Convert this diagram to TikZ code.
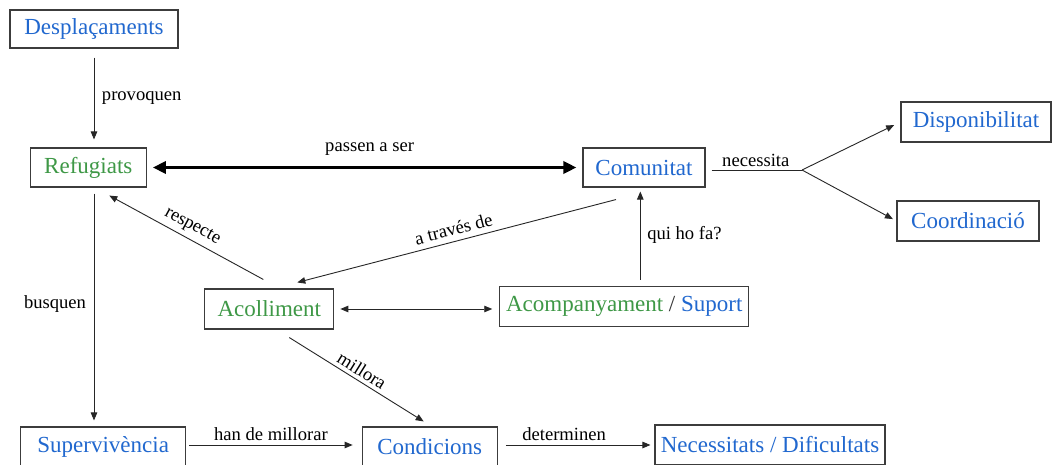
\documentclass[tikz,border=0pt]{standalone}
\usepackage{fontspec}
\setmainfont{Liberation Serif}
\usetikzlibrary{arrows.meta,calc}
\definecolor{cblue}{RGB}{33,104,207}
\definecolor{cgreen}{RGB}{62,152,70}
\definecolor{boxgray}{RGB}{60,60,60}
\newcommand\boxfont{\fontsize{23}{27}\selectfont}
\newcommand\lblfont{\fontsize{18.6}{21}\selectfont}
\tikzset{
  box/.style={draw=boxgray, line width=1.1pt, inner sep=0pt, font=\boxfont, text=cblue},
  gbox/.style={box, text=cgreen},
  lbl/.style={font=\lblfont, inner sep=1.5pt, text=black},
  arr/.style={line width=0.9pt, draw=black!85, -{Triangle[length=8pt,width=6.5pt]}},
  darr/.style={line width=0.9pt, draw=black!85, {Triangle[length=8pt,width=6.5pt]}-{Triangle[length=8pt,width=6.5pt]}},
  thickarr/.style={line width=3.6pt, {Triangle[length=13pt,width=12pt]}-{Triangle[length=13pt,width=12pt]}},
  plainline/.style={line width=0.9pt, draw=black!85},
}
\begin{document}
\begin{tikzpicture}[x=1pt,y=-1pt]
\clip (0,0) rectangle (1052,465);
\fill[white] (0,0) rectangle (1052,465);

\node[box, minimum width=168pt, minimum height=38pt] (desp) at (94,29) {Desplaçaments};
\node[gbox, minimum width=116pt, minimum height=39pt] (refug) at (88.3,167.5) {Refugiats};
\node[box, minimum width=122pt, minimum height=39pt] (comun) at (644,167.5) {Comunitat};
\node[box, minimum width=150pt, minimum height=40pt] (disp) at (976,122) {Disponibilitat};
\node[box, minimum width=142pt, minimum height=40pt] (coord) at (968,221) {Coordinació};
\node[gbox, minimum width=129pt, minimum height=40pt] (acoll) at (269.3,309) {Acolliment};
\node[box, minimum width=249pt, minimum height=40pt] (acomp) at (624.3,306.3) {\textcolor{cgreen}{Acompanyament} \textcolor{black!80}{/} Suport};
\node[box, minimum width=165pt, minimum height=40pt] (superv) at (103.2,447) {Supervivència};
\node[box, minimum width=135pt, minimum height=40pt] (condic) at (429.7,447) {Condicions};
\node[box, minimum width=230pt, minimum height=40pt] (necess) at (770,445) {Necessitats / Dificultats};

\coordinate (br) at (802,170);
\coordinate (hA) at ($(superv.east)+(0,-2)$);
\coordinate (dA) at ($(condic.east)+(0,-2)$);

% provoquen
\draw[arr, shorten <=9pt, shorten >=8pt] (desp.south) -- (desp.south |- refug.north)
  node[lbl, midway, right=6pt] {provoquen};
% busquen
\draw[arr, shorten <=6pt, shorten >=6pt] (refug.south -| desp.south) -- (desp.south |- superv.north)
  node[lbl, midway, left=6pt, yshift=3pt] {busquen};
% passen a ser
\draw[thickarr, shorten <=6pt, shorten >=6pt] (refug.east) -- (comun.west)
  node[lbl, midway, above=9pt, xshift=5pt] {passen a ser};
% necessita
\draw[plainline, shorten <=6pt] (comun.east |- br) -- (br)
  node[lbl, midway, above=1pt, xshift=2pt] {necessita};
\draw[arr, shorten >=7pt] (br) -- (disp.west);
\draw[arr, shorten >=4pt] (br) -- (coord.west);
% qui ho fa?
\draw[arr, shorten <=6pt, shorten >=4pt] ([xshift=16pt]acomp.north) -- ([xshift=16pt]acomp.north |- comun.south)
  node[lbl, midway, right=5pt, yshift=2pt] {qui ho fa?};
% a traves de
\draw[arr] ($(comun.south)+(-28,12)$) -- ($(acoll.north)+(28,-6)$)
  node[lbl, midway, sloped, above=4pt] {a través de};
% respecte
\draw[arr] ($(acoll.north)+(-6,-9)$) -- ($(refug.south)+(21,8)$)
  node[lbl, midway, sloped, above=3pt] {respecte};
% acolliment <-> acompanyament
\draw[darr, shorten <=6pt, shorten >=7pt] (acoll.east) -- (acoll.east -| acomp.west);
% millora
\draw[arr] ($(acoll.south)+(20,8)$) -- ($(condic.north)+(-6,-5)$)
  node[lbl, midway, sloped, above=2pt] {millora};
% han de millorar
\draw[arr, shorten <=3pt, shorten >=9pt] (hA) -- (hA -| condic.west)
  node[lbl, midway, above=2pt, xshift=-3pt] {han de millorar};
% determinen
\draw[arr, shorten <=8pt, shorten >=4pt] (dA) -- (dA -| necess.west)
  node[lbl, midway, above=2pt, xshift=-12pt] {determinen};
\end{tikzpicture}
\end{document}
